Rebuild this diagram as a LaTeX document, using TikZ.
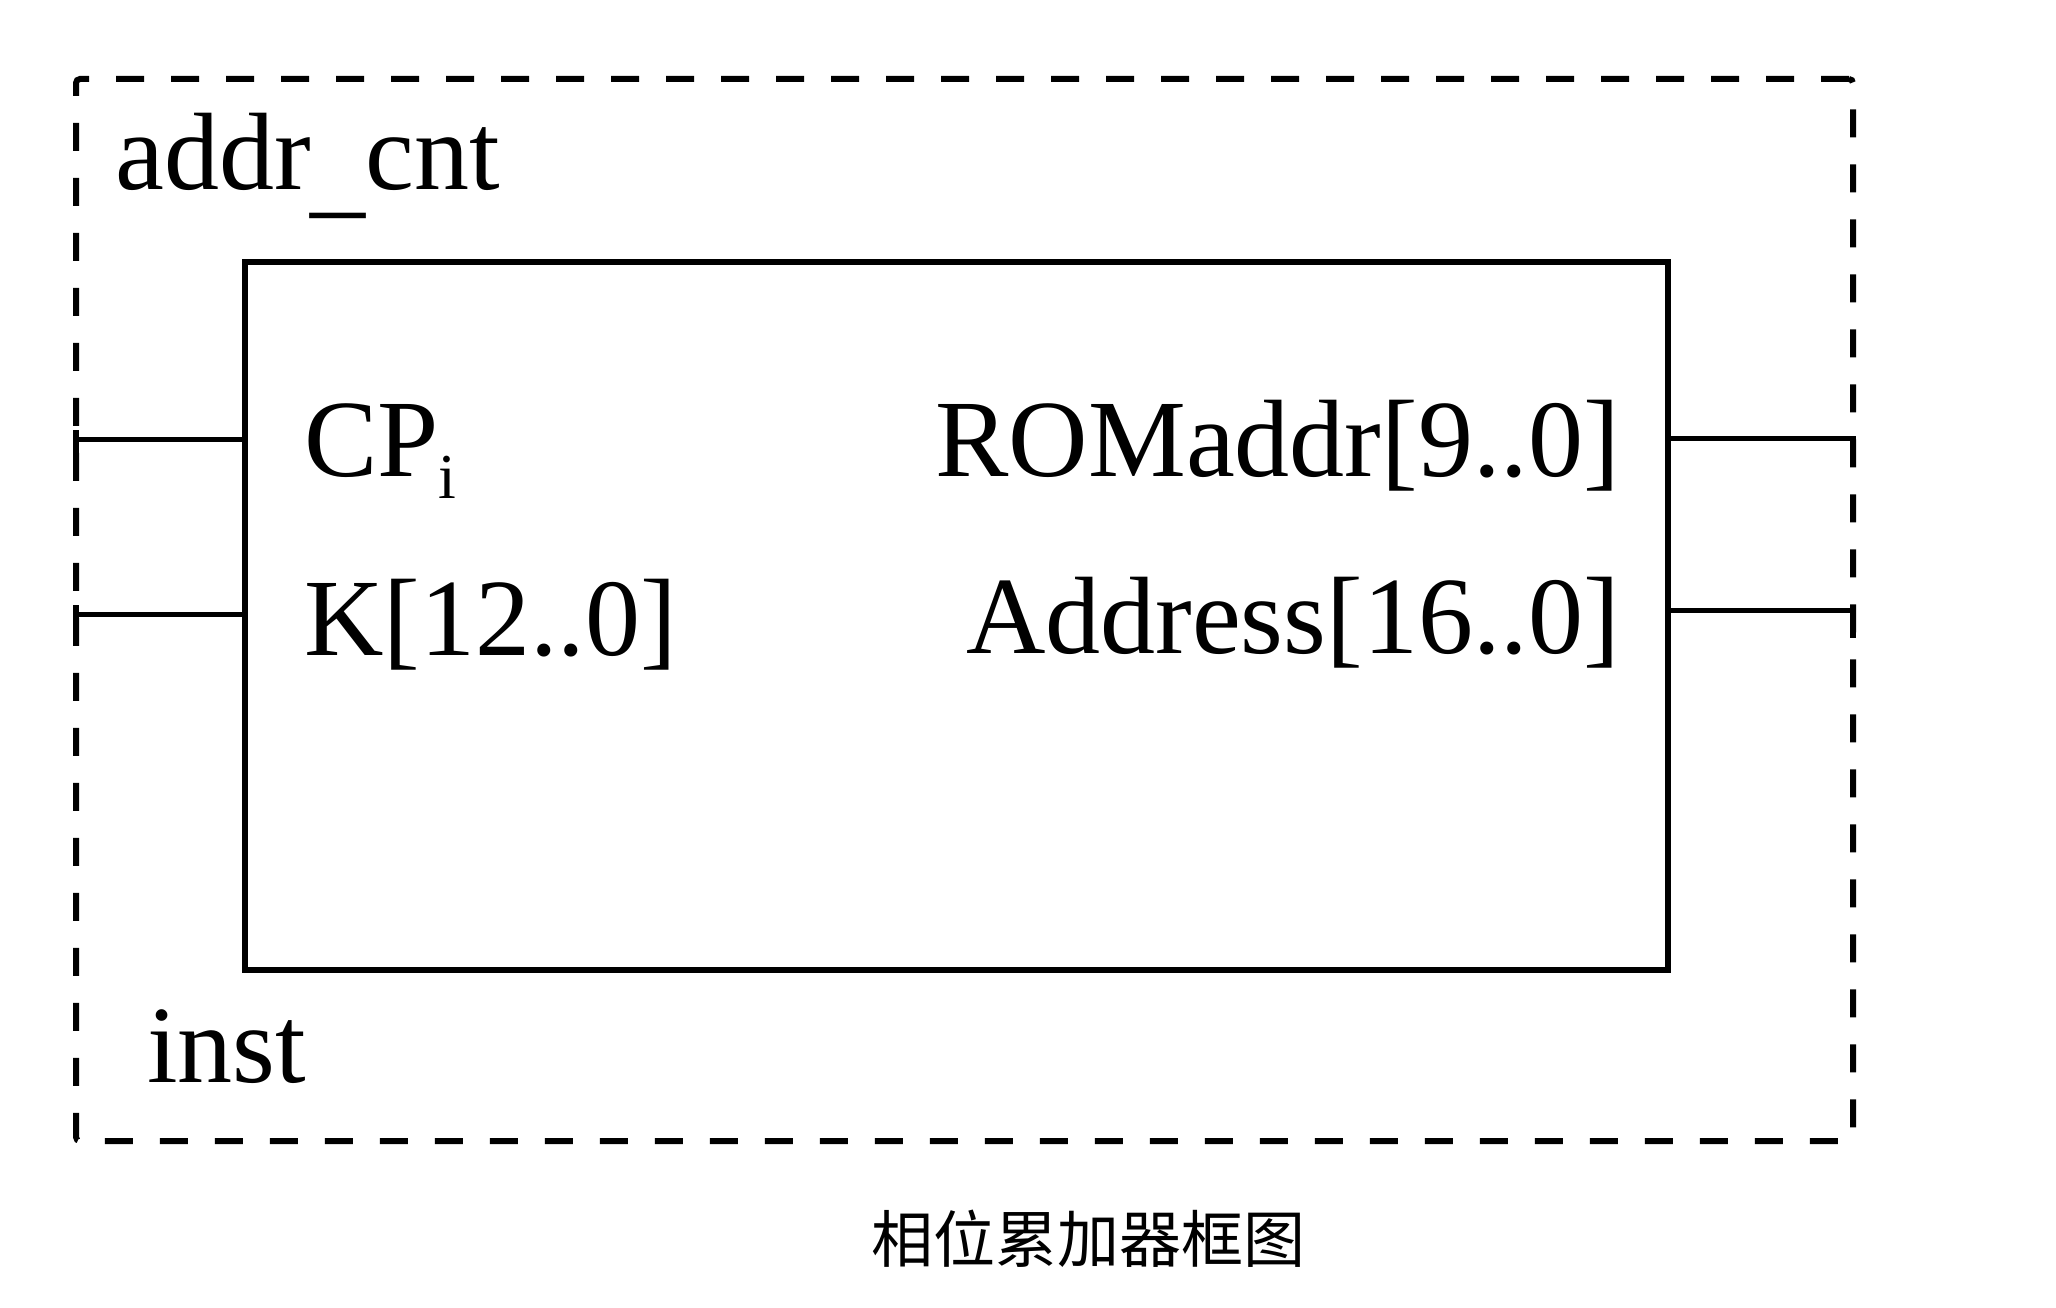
\documentclass[tikz,border=0pt]{standalone}
\usepackage{fontspec}
\setmainfont{Liberation Serif}
\newfontfamily\cjk{Noto Sans CJK SC}
\begin{document}
\begin{tikzpicture}[x=1pt,y=-1pt,
  frame/.style={draw, line width=6pt, dash pattern=on 28pt off 27pt, rounded corners=4pt, inner sep=0pt, outer sep=0pt, anchor=north west},
  core/.style={draw, line width=6.5pt, inner sep=0pt, outer sep=0pt, anchor=north west},
  port/.style={line width=5pt},
  tickmark/.style={line width=6pt},
  lbl/.style={inner sep=0pt, font=\fontsize{110}{120}\selectfont},
  captext/.style={inner sep=0pt, font=\cjk\fontsize{62}{68}\selectfont}]
\useasboundingbox (0,0) rectangle (2056,1308);
\node[frame, minimum width=1777pt, minimum height=1062pt] (outer) at (76,79) {};
\node[core, minimum width=1423pt, minimum height=708pt] (box) at (245,262) {};
% port endpoints on the dashed frame
\coordinate (cpin) at (76,439);
\coordinate (kin) at (76,614);
\coordinate (romout) at (1853,438);
\coordinate (addrout) at (1853,610);
\draw[port] (cpin) -- (cpin -| box.west);
\draw[port] (kin) -- (kin -| box.west);
\draw[port] (romout -| box.east) -- (romout);
\draw[port] (addrout -| box.east) -- (addrout);
\draw[tickmark] ([yshift=9pt]cpin) -- ([yshift=-19pt]cpin);
\draw[tickmark] ([yshift=9pt]kin) -- ([yshift=-19pt]kin);
\draw[tickmark] ([yshift=2pt]romout) -- ([yshift=-28pt]romout);
\draw[tickmark] ([yshift=2pt]addrout) -- ([yshift=-28pt]addrout);
% labels
\node[lbl, anchor=base west] (title) at (115,190) {addr\raisebox{-14pt}{\_}cnt};
\node[lbl, anchor=base west] (cp) at (304,476) {CP\raisebox{-22pt}{\fontsize{64}{70}\selectfont i}};
\node[lbl, anchor=base west] (k) at (304,655) {K[12..0]};
\node[lbl, anchor=base east] (rom) at (1620,476) {ROMaddr[9..0]};
\node[lbl, anchor=base east] (addr) at (1620,653) {Address[16..0]};
\node[lbl, anchor=base west] (inst) at (147,1082) {inst};
\node[captext] (caption) at (1088,1239) {相位累加器框图};
\end{tikzpicture}
\end{document}
